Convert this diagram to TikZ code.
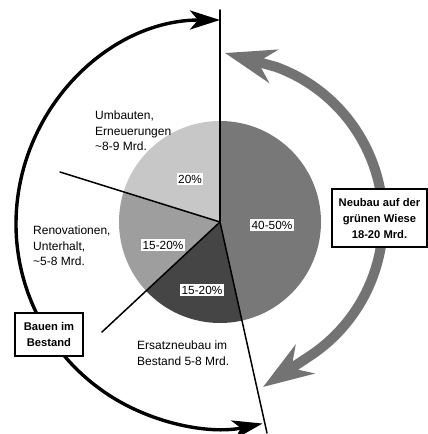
\documentclass[tikz,border=0pt]{standalone}
\usepackage{fontspec}
\setmainfont{Liberation Sans}
\usetikzlibrary{arrows.meta}
\definecolor{sliceA}{gray}{0.78}
\definecolor{sliceB}{gray}{0.62}
\definecolor{sliceC}{gray}{0.47}
\definecolor{sliceD}{gray}{0.27}
\definecolor{arrowgray}{gray}{0.45}
\begin{document}
\begin{tikzpicture}[x=1pt,y=1pt,
  lbl/.style={font=\fontsize{12}{15.5}\selectfont, align=left, anchor=west, inner sep=0pt},
  pct/.style={font=\fontsize{11.8}{14}\selectfont, fill=white, inner sep=1.5pt},
  boxlbl/.style={draw, line width=1.2pt, fill=white, font=\bfseries\fontsize{11.2}{16}\selectfont, align=center, inner sep=2pt},
  divider/.style={line width=1.5pt, line cap=round},
  blackarc/.style={line width=3.4pt, {Stealth[length=30pt,width=19pt,inset=8pt]}-{Stealth[length=30pt,width=19pt,inset=8pt]}},
  grayarc/.style={line width=10pt, draw=arrowgray, line join=round, {Stealth[length=50pt,width=34pt,inset=16pt]}-{Stealth[length=50pt,width=34pt,inset=16pt]}}
]
\useasboundingbox (0,0) rectangle (428,434);
\fill[white] (0,0) rectangle (428,434);
% pie
\coordinate (c) at (220,212);
\fill[sliceC] (c) -- ++(90:101) arc[start angle=90,end angle=-77.4,radius=101] -- cycle;
\fill[sliceD] (c) -- ++(-77.4:101) arc[start angle=-77.4,end angle=-137.3,radius=101] -- cycle;
\fill[sliceB] (c) -- ++(222.7:101) arc[start angle=222.7,end angle=162.3,radius=101] -- cycle;
\fill[sliceA] (c) -- ++(162.3:101) arc[start angle=162.3,end angle=90,radius=101] -- cycle;
% dividers
\coordinate (vtop) at (220,424);
\coordinate (ul) at (60,262);
\coordinate (ll) at (102,102);
\coordinate (bt) at (267,1);
\draw[divider] (c) -- (vtop);
\draw[divider] (c) -- (ul);
\draw[divider] (c) -- (ll);
\draw[divider] (c) -- (bt);
% black arc
\coordinate (btop) at (220,414);
\draw[blackarc] (btop) arc[start angle=90,end angle=282,radius=204];
% gray arc
\coordinate (gtip1) at (225,381);
\coordinate (gtip2) at (263,47);
\coordinate (gs) at ([shift={(220,214)}]70:163);
\draw[grayarc] (gtip1) -- (gs) arc[start angle=70,end angle=-57,radius=163] -- (gtip2);
% boxes
\node[boxlbl, minimum width=95pt, minimum height=58pt] (neu) at (379.5,216) {Neubau auf der\\grünen Wiese\\18-20 Mrd.};
\node[boxlbl, minimum width=68pt, minimum height=43pt] (bau) at (49,99.5) {Bauen im\\Bestand};
% percentages
\node[pct] (p20) at (190,255) {20\%};
\node[pct] (p40) at (272,209) {40-50\%};
\node[pct] (p15a) at (163,189) {15-20\%};
\node[pct] (p15b) at (202,144) {15-20\%};
% labels
\node[lbl] (umb) at (95,303) {Umbauten,\\Erneuerungen\\\textasciitilde 8-9 Mrd.};
\node[lbl] (ren) at (33,188) {Renovationen,\\Unterhalt,\\\textasciitilde 5-8 Mrd.};
\node[lbl] (ers) at (137,81) {Ersatzneubau im\\Bestand 5-8 Mrd.};
\end{tikzpicture}
\end{document}
